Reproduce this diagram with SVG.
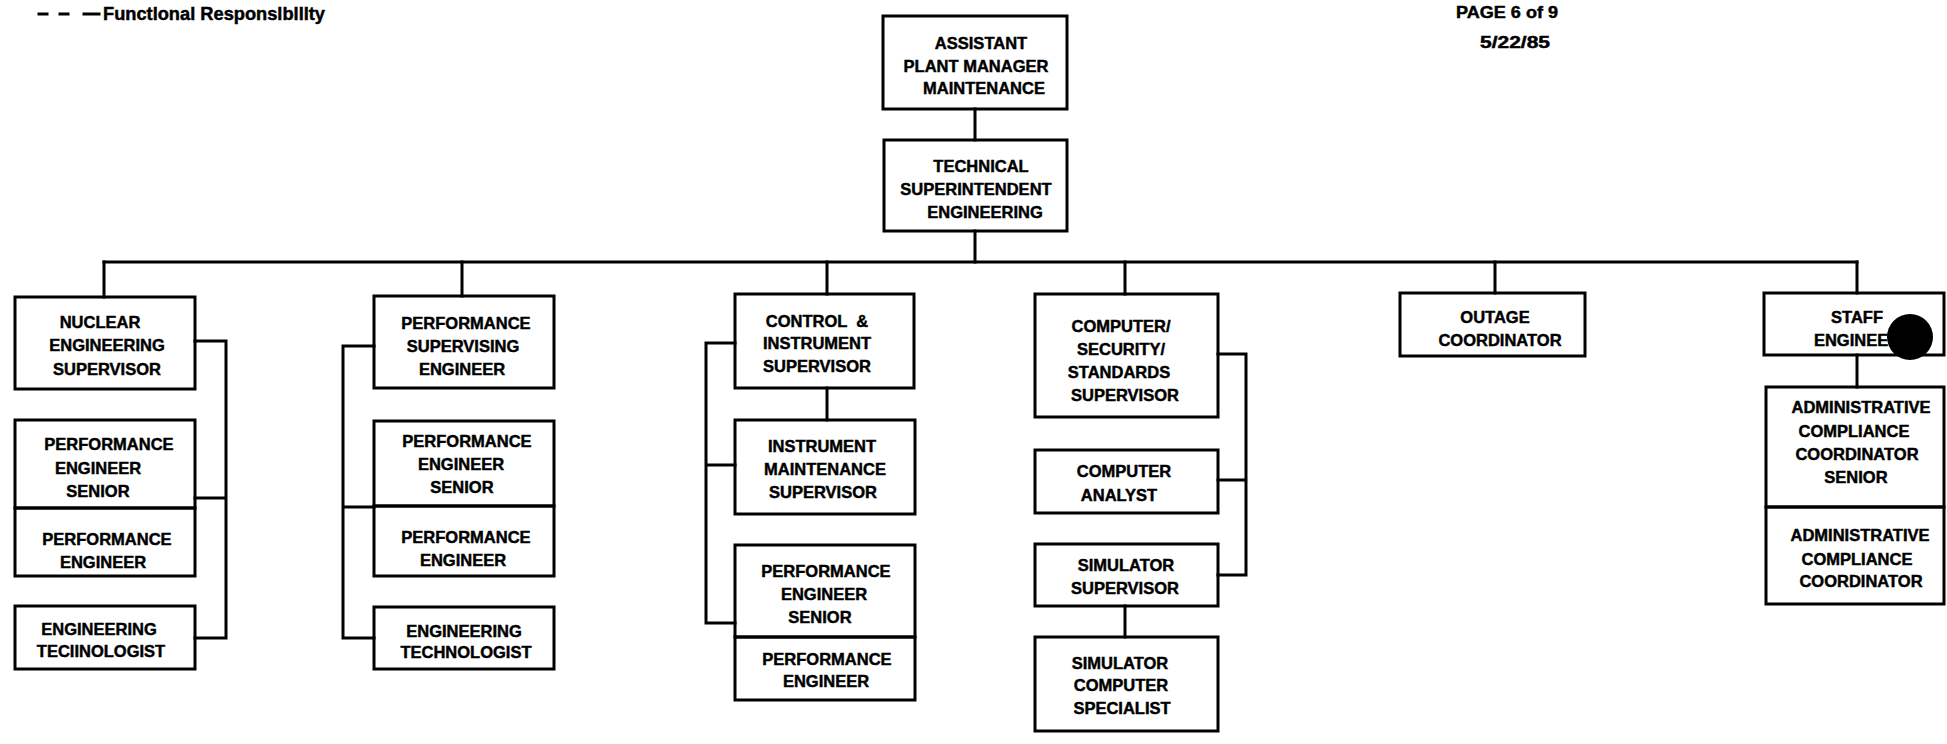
<svg xmlns="http://www.w3.org/2000/svg" width="1947" height="744" viewBox="0 0 1947 744">
<style>
.box{fill:none;stroke:#000;stroke-width:3}
.ln{fill:none;stroke:#000;stroke-width:3;stroke-linecap:square}
text{font-family:"Liberation Sans",Arial,sans-serif;font-weight:bold;font-size:16.5px;fill:#000;stroke:#000;stroke-width:0.45;text-anchor:middle}
.lg{text-anchor:start;font-size:18px}
</style>
<rect width="1947" height="744" fill="#fff"/>
<g id="legend">
<path class="ln" d="M39 14H47M60 14H68M84 14H99" stroke-width="3.5"/>
<text class="lg" x="103" y="20" textLength="222" lengthAdjust="spacingAndGlyphs">Functlonal Responslblllty</text>
</g>
<g id="page-info">
<text x="1507" y="18" font-size="17" textLength="102" lengthAdjust="spacingAndGlyphs">PAGE 6 of 9</text>
<text x="1515" y="48" font-size="18" textLength="70" lengthAdjust="spacingAndGlyphs">5/22/85</text>
</g>
<g id="connectors">
<path class="ln" d="M975 109V140M975 231V262"/>
<path class="ln" d="M104 262H1857"/>
<path class="ln" d="M104 262V297M462 262V296M827 262V294M1125 262V294M1495 262V293M1857 262V293"/>
<path class="ln" d="M195 341H226V638H195M195 498H226"/>
<path class="ln" d="M374 346H343V638H374M343 507H374"/>
<path class="ln" d="M827 388V420"/>
<path class="ln" d="M735 343H706V623H735M706 465H735"/>
<path class="ln" d="M1218 354H1246V575H1218M1218 480H1246"/>
<path class="ln" d="M1125 606V637"/>
<path class="ln" d="M1857 355V387"/>
</g>
<g id="assistant-plant-manager">
<rect class="box" x="883" y="16" width="184" height="93"/>
<text x="981" y="49">ASSISTANT</text>
<text x="976" y="72">PLANT MANAGER</text>
<text x="984" y="94">MAINTENANCE</text>
</g>
<g id="technical-superintendent">
<rect class="box" x="884" y="140" width="183" height="91"/>
<text x="981" y="172">TECHNICAL</text>
<text x="976" y="195">SUPERINTENDENT</text>
<text x="985" y="218">ENGINEERING</text>
</g>
<g id="nuclear-engineering-supervisor">
<rect class="box" x="15" y="297" width="180" height="92"/>
<text x="100" y="328">NUCLEAR</text>
<text x="107" y="351">ENGINEERING</text>
<text x="107" y="375">SUPERVISOR</text>
</g>
<g id="perf-eng-senior-1">
<rect class="box" x="15" y="420" width="180" height="88"/>
<text x="109" y="450">PERFORMANCE</text>
<text x="98" y="474">ENGINEER</text>
<text x="98" y="497">SENIOR</text>
</g>
<g id="perf-eng-1">
<rect class="box" x="15" y="508" width="180" height="68"/>
<text x="107" y="545">PERFORMANCE</text>
<text x="103" y="568">ENGINEER</text>
</g>
<g id="eng-tech-1">
<rect class="box" x="15" y="606" width="180" height="63"/>
<text x="99" y="635">ENGINEERING</text>
<text x="101" y="657">TECIINOLOGIST</text>
</g>
<g id="perf-supervising-engineer">
<rect class="box" x="374" y="296" width="180" height="92"/>
<text x="466" y="329">PERFORMANCE</text>
<text x="463" y="352">SUPERVISING</text>
<text x="462" y="375">ENGINEER</text>
</g>
<g id="perf-eng-senior-2">
<rect class="box" x="374" y="421" width="180" height="85"/>
<text x="467" y="447">PERFORMANCE</text>
<text x="461" y="470">ENGINEER</text>
<text x="462" y="493">SENIOR</text>
</g>
<g id="perf-eng-2">
<rect class="box" x="374" y="506" width="180" height="70"/>
<text x="466" y="543">PERFORMANCE</text>
<text x="463" y="566">ENGINEER</text>
</g>
<g id="eng-tech-2">
<rect class="box" x="374" y="607" width="180" height="62"/>
<text x="464" y="637">ENGINEERING</text>
<text x="466" y="658">TECHNOLOGIST</text>
</g>
<g id="control-instrument-supervisor">
<rect class="box" x="735" y="294" width="179" height="94"/>
<text x="817" y="327" xml:space="preserve">CONTROL  &amp;</text>
<text x="817" y="349">INSTRUMENT</text>
<text x="817" y="372">SUPERVISOR</text>
</g>
<g id="instrument-maintenance-supervisor">
<rect class="box" x="735" y="420" width="180" height="94"/>
<text x="822" y="452">INSTRUMENT</text>
<text x="825" y="475">MAINTENANCE</text>
<text x="823" y="498">SUPERVISOR</text>
</g>
<g id="perf-eng-senior-3">
<rect class="box" x="735" y="545" width="180" height="92"/>
<text x="826" y="577">PERFORMANCE</text>
<text x="824" y="600">ENGINEER</text>
<text x="820" y="623">SENIOR</text>
</g>
<g id="perf-eng-3">
<rect class="box" x="735" y="637" width="180" height="63"/>
<text x="827" y="665">PERFORMANCE</text>
<text x="826" y="687">ENGINEER</text>
</g>
<g id="computer-security-standards-supervisor">
<rect class="box" x="1035" y="294" width="183" height="123"/>
<text x="1121" y="332">COMPUTER/</text>
<text x="1121" y="355">SECURITY/</text>
<text x="1119" y="378">STANDARDS</text>
<text x="1125" y="401">SUPERVISOR</text>
</g>
<g id="computer-analyst">
<rect class="box" x="1035" y="450" width="183" height="63"/>
<text x="1124" y="477">COMPUTER</text>
<text x="1119" y="501">ANALYST</text>
</g>
<g id="simulator-supervisor">
<rect class="box" x="1035" y="544" width="183" height="62"/>
<text x="1126" y="571">SIMULATOR</text>
<text x="1125" y="594">SUPERVISOR</text>
</g>
<g id="simulator-computer-specialist">
<rect class="box" x="1035" y="637" width="183" height="94"/>
<text x="1120" y="669">SIMULATOR</text>
<text x="1121" y="691">COMPUTER</text>
<text x="1122" y="714">SPECIALIST</text>
</g>
<g id="outage-coordinator">
<rect class="box" x="1400" y="293" width="185" height="63"/>
<text x="1495" y="323">OUTAGE</text>
<text x="1500" y="346">COORDINATOR</text>
</g>
<g id="staff-engineer">
<rect class="box" x="1764" y="293" width="180" height="62"/>
<text x="1857" y="323">STAFF</text>
<text x="1857" y="346">ENGINEER</text>
</g>
<g id="admin-compliance-coordinator-senior">
<rect class="box" x="1766" y="387" width="178" height="120"/>
<text x="1861" y="413">ADMINISTRATIVE</text>
<text x="1854" y="437">COMPLIANCE</text>
<text x="1857" y="460">COORDINATOR</text>
<text x="1856" y="483">SENIOR</text>
</g>
<g id="admin-compliance-coordinator">
<rect class="box" x="1766" y="507" width="178" height="97"/>
<text x="1860" y="541">ADMINISTRATIVE</text>
<text x="1857" y="565">COMPLIANCE</text>
<text x="1861" y="587">COORDINATOR</text>
</g>
<circle cx="1910" cy="337" r="23" fill="#000"/>
</svg>
